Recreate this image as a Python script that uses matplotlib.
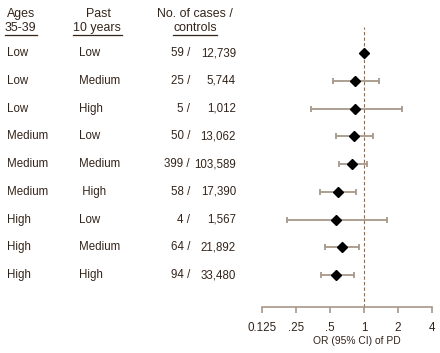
import numpy as np
import matplotlib
matplotlib.use('Agg')
import matplotlib.pyplot as plt
from matplotlib.transforms import blended_transform_factory

##########################
ages = ['Low', 'Low', 'Low', 'Medium', 'Medium', 'Medium', 'High', 'High', 'High']
past = ['Low', 'Medium', 'High', 'Low', 'Medium', ' High', 'Low', 'Medium', 'High']
cases = ['59 /', '25 /', '5 /', '50 /', '399 /', '58 /', '4 /', '64 /', '94 /']
controls = ['12,739', '5,744', '1,012', '13,062', '103,589', '17,390', '1,567', '21,892', '33,480']
odds = [1.0, 0.83, 0.84, 0.82, 0.79, 0.59, 0.57, 0.64, 0.57]
ci_lo = [np.nan, 0.53, 0.34, 0.57, 0.60, 0.41, 0.21, 0.45, 0.42]
ci_hi = [np.nan, 1.36, 2.16, 1.21, 1.06, 0.85, 1.61, 0.91, 0.81]
ticks = [0.125, 0.25, 0.5, 1, 2, 4]
tick_labels = ['0.125', '.25', '.5', '1', '2', '4']
#########################
txt_col = '#33241a'
bar_col = '#a8978a'
line_col = '#9a6a48'
plt.rcParams['font.family'] = ['Liberation Sans', 'DejaVu Sans']

W, H = 440, 353
fig = plt.figure(figsize=(W / 100, H / 100), dpi=100)
# axes spans px x 250..440, y 20..307
ax = fig.add_axes([250 / W, 1 - 307 / H, 190 / W, 287 / H])
ax.set_xscale('log', base=2)
ax.set_xlim(2 ** (-3 - 12 / 34), 2 ** (2 + 8 / 34))
ax.set_ylim(9.15, -1.19)

y = np.arange(len(odds))
lo = np.array(ci_lo)
hi = np.array(ci_hi)
od = np.array(odds)
m = ~np.isnan(lo)
ax.errorbar(od[m], y[m], xerr=[od[m] - lo[m], hi[m] - od[m]], fmt='none',
            ecolor=bar_col, elinewidth=1.3, capsize=2.5, capthick=1.3, zorder=2)
ax.plot(od, y, 'D', color='black', markersize=5.5, zorder=3)
ax.axvline(1, ymin=0, ymax=(9.15 + 0.94) / (9.15 + 1.19), color=line_col,
           linestyle=(0, (3, 2)), linewidth=0.8, zorder=1)

for s in ['top', 'right', 'left']:
    ax.spines[s].set_visible(False)
ax.spines['bottom'].set_bounds(0.125, 4)
ax.spines['bottom'].set_color(bar_col)
ax.spines['bottom'].set_linewidth(1.2)
ax.set_yticks([])
ax.set_xticks(ticks)
ax.set_xticklabels(tick_labels)
ax.minorticks_off()
ax.tick_params(axis='x', colors=bar_col, length=4, width=1.2, labelcolor=txt_col,
               labelsize=8.4, pad=7)
ax.set_xlabel('OR (95% CI) of PD', fontsize=7.4, color=txt_col)
ax.xaxis.set_label_coords(0.56, -0.1)

# text columns: figure-pixel x, data y
tr = blended_transform_factory(fig.transFigure, ax.transData)
fs = 8.3
for i in range(len(odds)):
    ax.text(7 / W, i, ages[i], transform=tr, fontsize=fs, color=txt_col, va='center', ha='left')
    ax.text(79 / W, i, past[i], transform=tr, fontsize=fs, color=txt_col, va='center', ha='left')
    ax.text(190 / W, i, cases[i], transform=tr, fontsize=fs, color=txt_col, va='center', ha='right')
    ax.text(236 / W, i, controls[i], transform=tr, fontsize=fs, color=txt_col, va='center', ha='right')

# headers (figure pixel coords)
hfs = 8.9
def ftxt(x, yy, s, ha='left'):
    return fig.text(x / W, 1 - yy / H, s, fontsize=hfs, color=txt_col, ha=ha, va='center')

ftxt(7, 14, 'Ages')
ftxt(5, 28, '35-39')
ftxt(98, 14, 'Past', ha='center')
ftxt(97, 28, '10 years', ha='center')
ftxt(157, 14, 'No. of cases /')
ftxt(195, 28, 'controls', ha='center')
for x0, x1 in [(5, 37), (73, 122), (173, 217)]:
    fig.add_artist(plt.Line2D([x0 / W, x1 / W], [1 - 35 / H] * 2, color=txt_col, linewidth=0.9))

fig.savefig('out.png', dpi=100)
